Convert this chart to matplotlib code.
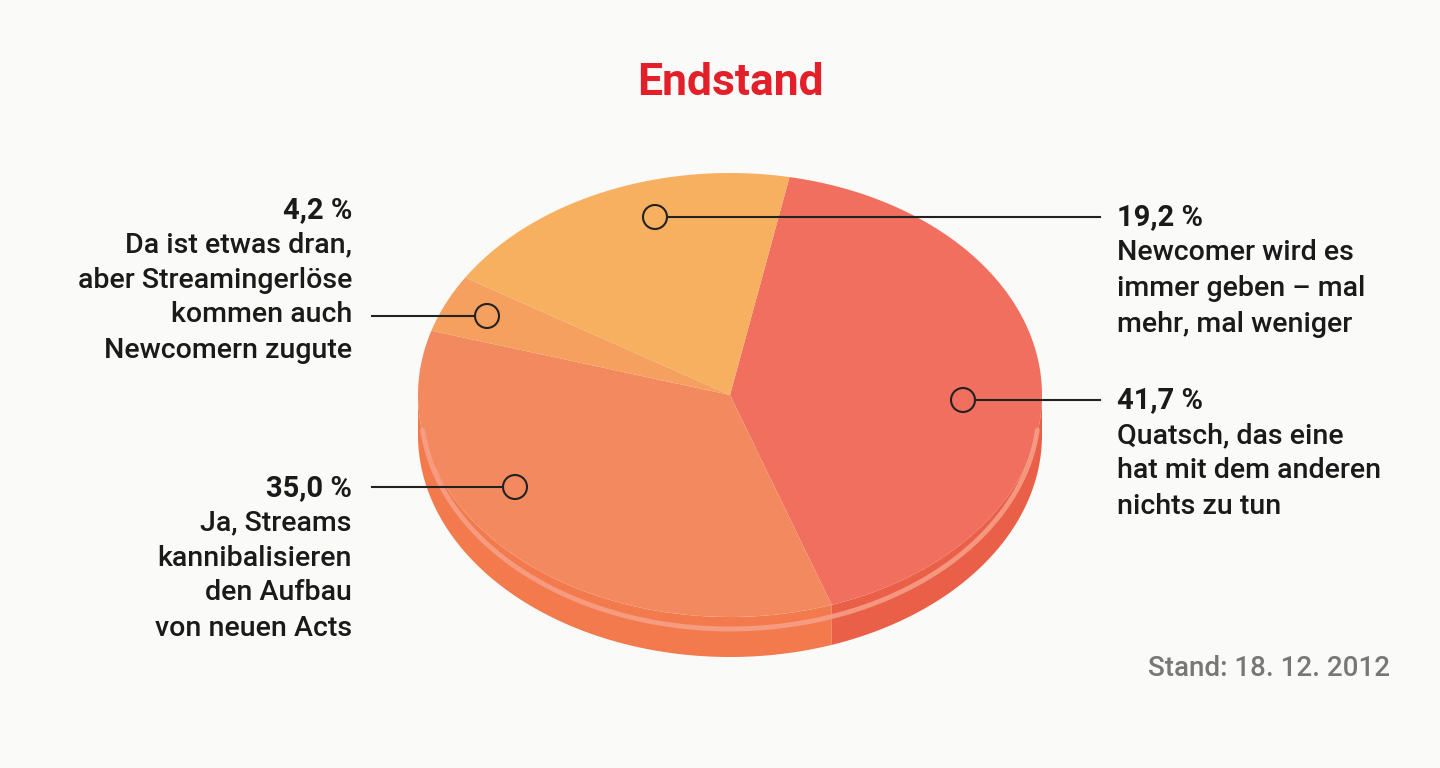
import matplotlib
matplotlib.use("Agg")
import matplotlib.pyplot as plt
from matplotlib.patches import Circle
import numpy as np

values = [41.7, 35.0, 4.2, 19.2]
pct_labels = ["41,7 %", "35,0 %", "4,2 %", "19,2 %"]
texts = [["Quatsch, das eine", "hat mit dem anderen", "nichts zu tun"],
         ["Ja, Streams", "kannibalisieren", "den Aufbau", "von neuen Acts"],
         ["Da ist etwas dran,", "aber Streamingerlöse", "kommen auch", "Newcomern zugute"],
         ["Newcomer wird es", "immer geben – mal", "mehr, mal weniger"]]
colors = ["#f06f5e", "#f38a5f", "#f5a05f", "#f7b05f"]
side_colors = ["#ea5f48", "#f27a4c"]

W, H = 1440, 768
fig = plt.figure(figsize=(14.4, 7.68), dpi=100, facecolor="#fafaf8")
plt.rcParams['font.family'] = ['Roboto', 'DejaVu Sans']

cx, cy, rx, ry, depth = 730, 395, 312, 222, 40
ax = fig.add_axes([0, 0, 1, 1])
ax.set_xlim(0, W); ax.set_ylim(H, 0); ax.axis('off')

start = 79.0
angles = [start]
for v in values:
    angles.append(angles[-1] - v / sum(values) * 360)

def band(t0, t1, c):
    t = np.linspace(t0, t1, 200)
    xs = cx + rx*np.cos(np.deg2rad(t)); ys = cy - ry*np.sin(np.deg2rad(t))
    X = np.concatenate([xs, xs[::-1]]); Y = np.concatenate([ys, ys[::-1] + depth])
    ax.fill(X, Y, color=c, lw=0)
band(180, 360 + angles[1], side_colors[1])
band(360 + angles[1], 360, side_colors[0])
t = np.linspace(186, 354, 300)
ax.plot(cx + (rx-3)*np.cos(np.deg2rad(t)), cy - ry*np.sin(np.deg2rad(t)) + 12,
        color="#f7a08a", lw=3.5, alpha=0.85, solid_capstyle='round')
for i, v in enumerate(values):
    a0, a1 = angles[i+1], angles[i]
    t = np.linspace(a0, a1, 200)
    xs = np.concatenate([[cx], cx + rx*np.cos(np.deg2rad(t))])
    ys = np.concatenate([[cy], cy - ry*np.sin(np.deg2rad(t))])
    ax.fill(xs, ys, color=colors[i], lw=0)

fig.text(730/W, 1-83/H, "Endstand", color="#e3202a", fontsize=32,
         fontweight='bold', ha='center', va='center')

# circle x, y, line end x, text x, align, pct y, line step
anchors = [(963, 400, 1100, 1117, 'left', 400, 35.5),
           (515, 487, 372, 352, 'right', 488, 35),
           (487, 316, 372, 352, 'right', 210, 35),
           (655, 217, 1100, 1117, 'left', 217, 36)]
for i, (px, py, lx, tx, al, pyt, step) in enumerate(anchors):
    ax.plot([px + (12 if lx > px else -12), lx], [py, py], color="#222", lw=1.5)
    ax.add_patch(Circle((px, py), 12, fill=False, ec="#222", lw=1.5))
    ax.text(tx, pyt, pct_labels[i], fontsize=21, fontweight='bold', ha=al,
            va='center', color="#1a1a1a")
    for j, line in enumerate(texts[i]):
        ax.text(tx, pyt + step*(j+1), line, fontsize=20.5, fontweight='medium',
                ha=al, va='center', color="#1a1a1a")

fig.text(1390/W, 1-668/H, "Stand: 18. 12. 2012", fontsize=20, color="#777",
         ha='right', va='center', fontweight='medium')
fig.savefig("out.png", dpi=100, facecolor=fig.get_facecolor())
